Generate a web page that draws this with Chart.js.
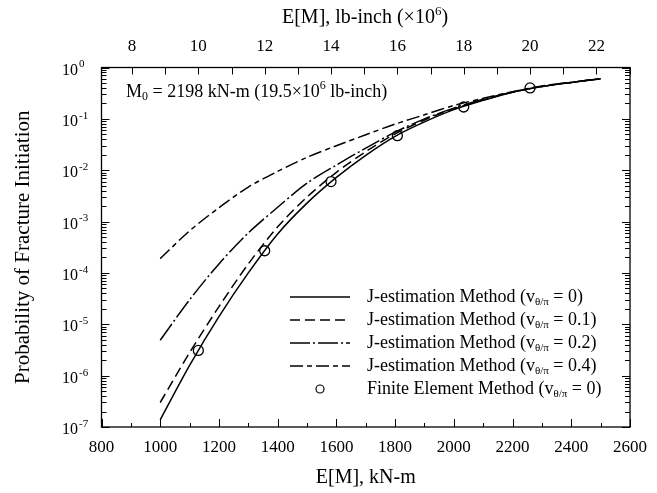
<!DOCTYPE html>
<html><head><meta charset="utf-8">
<script src="https://cdn.jsdelivr.net/npm/chart.js@4"></script>
<style>html,body{margin:0;padding:0;background:#fff;}#wrap{width:657px;height:493px;}</style>
</head><body><div id="wrap"><canvas id="c" width="657" height="493"></canvas></div>
<script>
// ---- data ----
const moments = [1000,1100,1200,1300,1400,1500,1600,1700,1800,1900,2000,2100,2200,2300,2400,2500];
const pNu0   = [1.38e-7,1.58e-6,1.41e-5,1.0e-4,5.75e-4,2.29e-3,7.24e-3,1.95e-2,4.57e-2,8.71e-2,0.151,0.229,0.331,0.427,0.513,0.603];
const pNu01  = [3.0e-7,2.8e-6,2.2e-5,1.5e-4,7.9e-4,3.0e-3,9.1e-3,2.3e-2,5.1e-2,9.5e-2,0.158,0.234,0.331,0.427,0.513,0.603];
const pNu02  = [4.9e-6,3.0e-5,1.5e-4,6.0e-4,1.9e-3,5.6e-3,1.26e-2,2.7e-2,5.5e-2,0.100,0.162,0.240,0.331,0.427,0.513,0.603];
const pNu04  = [1.9e-4,6.6e-4,1.86e-3,4.7e-3,9.5e-3,1.78e-2,3.0e-2,4.9e-2,7.9e-2,0.120,0.182,0.251,0.339,0.437,0.513,0.603];
const feMoments = [1129.8,1355.8,1581.7,1807.7,2033.6,2259.6];
const feProb    = [3.1e-6,2.7e-4,6.0e-3,4.7e-2,0.17,0.40];
const xTicks   = [800,1000,1200,1400,1600,1800,2000,2200,2400,2600];
const topTicks = [8,10,12,14,16,18,20,22];
const yExponents = [0,-1,-2,-3,-4,-5,-6,-7];
const nuLabels = ['0','0.1','0.2','0.4'];
const KNM_PER_MLBIN = 112.985;

const SERIF = "'Liberation Serif','Times New Roman',serif";
const dashes = [[],[10,5],[20,3,2,3],[13,4,5,4]];
const pts = arr => moments.map((x,i)=>({x:x,y:arr[i]}));
const series = [pNu0,pNu01,pNu02,pNu04];

const datasets = series.map((s,i)=>({
  label:'J-estimation Method (v = '+nuLabels[i]+')',
  data:pts(s), showLine:true, borderColor:'#000', borderWidth:1.5,
  borderDash:dashes[i], pointRadius:0, tension:0.3, fill:false,
  xAxisID:'x', yAxisID:'y'
}));
datasets.push({
  label:'Finite Element Method (v = 0)',
  data:feMoments.map((x,i)=>({x:x,y:feProb[i]})), showLine:false,
  pointRadius:5, pointStyle:'circle', borderColor:'#000', pointBorderWidth:1.3,
  backgroundColor:'rgba(0,0,0,0)', xAxisID:'x', yAxisID:'y'
});

function drawRich(ctx, parts, x, y, align){
  let w=0;
  parts.forEach(p=>{ctx.font=p[1]+'px '+SERIF; w+=ctx.measureText(p[0]).width;});
  let cx = align==='center'? x-w/2 : (align==='right'? x-w : x);
  ctx.textAlign='left'; ctx.textBaseline='middle';
  parts.forEach(p=>{ctx.font=p[1]+'px '+SERIF; ctx.fillText(p[0],cx,y+p[2]); cx+=ctx.measureText(p[0]).width;});
}

const decor = {
  id:'decor',
  afterDraw(chart){
    const ctx=chart.ctx, a=chart.chartArea;
    const xs=chart.scales.x, x2=chart.scales.x2, ys=chart.scales.y;
    ctx.save();
    ctx.strokeStyle='#000'; ctx.fillStyle='#000'; ctx.lineWidth=1.3; ctx.setLineDash([]);
    ctx.strokeRect(a.left,a.top,a.right-a.left,a.bottom-a.top);
    ctx.lineWidth=1;
    ctx.beginPath();
    for(let v=800; v<=2600; v+=100){
      const px=Math.round(xs.getPixelForValue(v))+0.5;
      const len=(v%200===0)?8:4;
      ctx.moveTo(px,a.bottom); ctx.lineTo(px,a.bottom-len);
    }
    for(let t=8; t<=23; t++){
      const px=Math.round(x2.getPixelForValue(t))+0.5;
      ctx.moveTo(px,a.top); ctx.lineTo(px,a.top+7);
    }
    for(let d=-7; d<=0; d++){
      for(let m=1; m<=9; m++){
        if(d===0 && m>1) break;
        const py=Math.round(ys.getPixelForValue(m*Math.pow(10,d)))+0.5;
        const len=(m===1)?8:5;
        ctx.moveTo(a.left,py); ctx.lineTo(a.left+len,py);
        ctx.moveTo(a.right,py); ctx.lineTo(a.right-len,py);
      }
    }
    ctx.stroke();
    // y tick labels 10^n
    yExponents.forEach(e=>{
      const py=ys.getPixelForValue(Math.pow(10,e));
      ctx.font='16px '+SERIF; ctx.textAlign='right'; ctx.textBaseline='middle';
      ctx.fillText('10',78,py+3);
      ctx.font='11px '+SERIF; ctx.textAlign='left';
      ctx.fillText(e===0?'0':'-'+(-e),79,py-3);
    });
    // top axis title
    drawRich(ctx,[['E[M], lb-inch (\u00d710',20,0],['6',13,-6],[')',20,0]],365,18,'center');
    // annotation
    drawRich(ctx,[['M',18,0],['0',12,5],[' = 2198 kN-m (19.5\u00d710',18,0],['6',12,-6],[' lb-inch)',18,0]],126,92,'left');
    // legend
    const rowY=[297,320,343,366,389];
    for(let i=0;i<4;i++){
      ctx.lineWidth=1.5; ctx.setLineDash(dashes[i]);
      ctx.beginPath(); ctx.moveTo(290,rowY[i]); ctx.lineTo(350,rowY[i]); ctx.stroke();
      ctx.setLineDash([]);
      drawRich(ctx,[['J-estimation Method (v',18,0],['\u03b8/\u03c0',11,5],[' = '+nuLabels[i]+')',18,0]],367,rowY[i],'left');
    }
    ctx.lineWidth=1.2; ctx.beginPath(); ctx.arc(320,rowY[4],4,0,Math.PI*2); ctx.stroke();
    drawRich(ctx,[['Finite Element Method (v',18,0],['\u03b8/\u03c0',11,5],[' = 0)',18,0]],367,rowY[4],'left');
    ctx.restore();
  }
};

new Chart(document.getElementById('c'),{
  type:'scatter',
  data:{datasets:datasets},
  options:{
    responsive:false, animation:false, devicePixelRatio:1,
    layout:{padding:{left:0,right:19.5,top:0,bottom:0}},
    plugins:{legend:{display:false},tooltip:{enabled:false}},
    events:[],
    scales:{
      x:{type:'linear',position:'bottom',min:800,max:2600,
        afterBuildTicks:s=>{s.ticks=xTicks.map(v=>({value:v}));},
        afterFit:s=>{s.height=66;},
        ticks:{font:{family:SERIF,size:17},color:'#000',padding:10,maxRotation:0,autoSkip:false,callback:v=>String(v)},
        grid:{display:false,drawTicks:false},border:{display:false},
        title:{display:true,text:'E[M], kN-m',font:{family:SERIF,size:20},color:'#000',padding:{top:0,bottom:3}}
      },
      x2:{type:'linear',position:'top',min:800/KNM_PER_MLBIN,max:2600/KNM_PER_MLBIN,
        afterBuildTicks:s=>{s.ticks=topTicks.map(v=>({value:v}));},
        afterFit:s=>{s.height=67.5;},
        ticks:{font:{family:SERIF,size:17},color:'#000',padding:11,maxRotation:0,autoSkip:false,callback:v=>String(v)},
        grid:{display:false,drawTicks:false},border:{display:false}
      },
      y:{type:'logarithmic',position:'left',min:1e-7,max:1,
        afterBuildTicks:s=>{s.ticks=yExponents.map(e=>({value:Math.pow(10,e)}));},
        afterFit:s=>{s.width=101.5;},
        ticks:{display:false},
        grid:{display:false,drawTicks:false},border:{display:false},
        title:{display:true,text:'Probability of Fracture Initiation',font:{family:SERIF,size:21},color:'#000',padding:{top:11}}
      }
    }
  },
  plugins:[decor]
});
</script></body></html>
